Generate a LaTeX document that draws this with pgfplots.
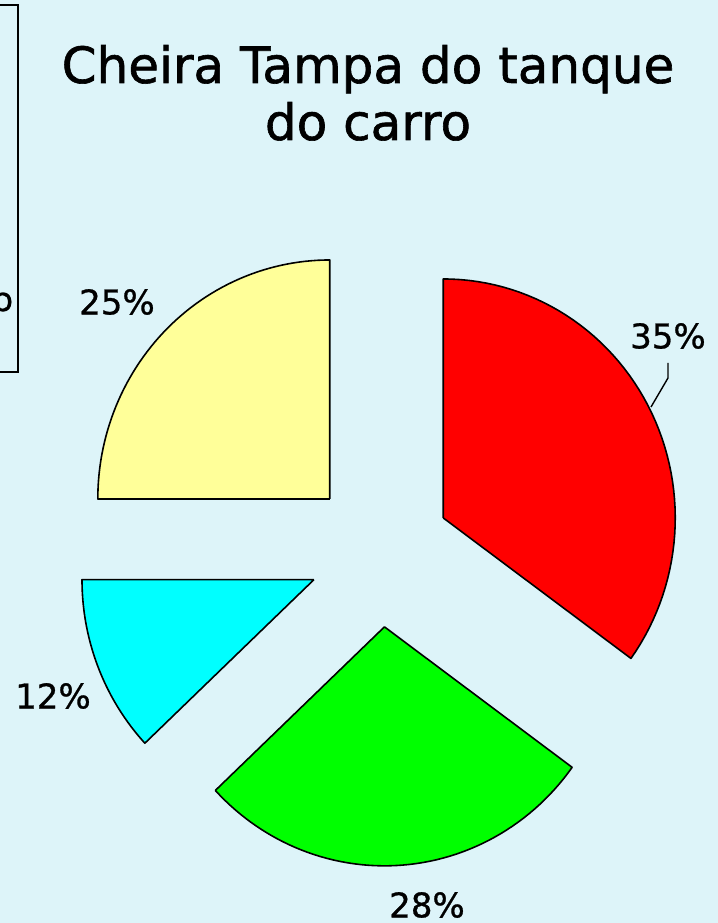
\documentclass[border=0pt]{standalone}
\usepackage{fontspec}
\setmainfont{DejaVu Sans}
\newfontfamily\titlefont[FakeBold=1.2]{DejaVu Sans}
\newfontfamily\labelfont[FakeBold=0.8]{DejaVu Sans}
\usepackage{pgfplots}
\pgfplotsset{compat=1.18}

\definecolor{bgcyan}{RGB}{221,244,249}
\definecolor{piered}{RGB}{255,0,0}
\definecolor{piegreen}{RGB}{0,255,0}
\definecolor{piecyan}{RGB}{0,255,255}
\definecolor{pieyellow}{RGB}{255,255,153}

% pie geometry in picture pixels (y upwards), slightly taller than wide
\def\cx{380}\def\cy{371}
\def\rx{232}\def\ry{239}
\def\ex{71}\def\ey{75}

% one exploded slice: start %, end %, colour
\newcommand\slice[3]{%
  \pgfmathsetmacro\aS{3.6*#1}
  \pgfmathsetmacro\aE{3.6*#2}
  \pgfmathsetmacro\ox{\cx+\ex*sin((\aS+\aE)/2)}
  \pgfmathsetmacro\oy{\cy+\ey*cos((\aS+\aE)/2)}
  \addplot[fill=#3, draw=black, line width=0.8pt, line join=round,
    samples=62, domain=0:61, variable=\t]
    ({\ox + ifthenelse(and(\t>0.5,\t<60.5),\rx,0)*sin(\aS+(\aE-\aS)*(\t-1)/59)},
     {\oy + ifthenelse(and(\t>0.5,\t<60.5),\ry,0)*cos(\aS+(\aE-\aS)*(\t-1)/59)});
}

\begin{document}
\begin{tikzpicture}
\begin{axis}[
  scale only axis, width=359pt, height=461.5pt,
  xmin=0, xmax=718, ymin=0, ymax=923,
  hide axis, clip=true,
]
  % background
  \addplot[fill=bgcyan, draw=none] coordinates {(0,0) (718,0) (718,923) (0,923)} -- cycle;
  % cut-off legend box on the left
  \addplot[draw=black, line width=0.75pt] coordinates {(-5,918) (18,918) (18,551) (-5,551)};
  \node[anchor=base, font=\labelfont\fontsize{16.5}{18}\selectfont] at (axis cs:3,612) {o};

  % slices: 35, 28, 12, 25 (clockwise from top)
  \slice{0}{35}{piered}
  \slice{35}{63}{piegreen}
  \slice{63}{75}{piecyan}
  \slice{75}{100}{pieyellow}

  % leader line of 35%
  \addplot[black, line width=0.7pt] coordinates {(668,560) (668,545) (651,516)};

  % title
  \node[anchor=base, font=\titlefont\fontsize{25}{28}\selectfont] at (axis cs:368,840) {Cheira Tampa do tanque};
  \node[anchor=base, font=\titlefont\fontsize{25}{28}\selectfont] at (axis cs:368,783) {do carro};

  % percentages
  \begin{scope}[every node/.style={font=\labelfont\fontsize{17}{18}\selectfont}]
    \node at (axis cs:668,587) {35\%};
    \node at (axis cs:427,18) {28\%};
    \node at (axis cs:53,227) {12\%};
    \node at (axis cs:117,621) {25\%};
  \end{scope}
\end{axis}
\end{tikzpicture}
\end{document}
